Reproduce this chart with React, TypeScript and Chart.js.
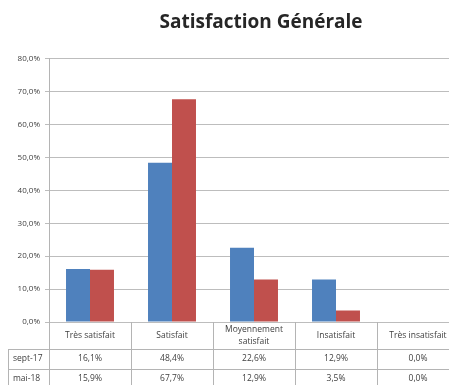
import React, { useEffect, useRef } from "react";
import { Chart, registerables } from "chart.js";

Chart.register(...registerables);

const title = "Satisfaction Générale";
const categories = ["Très satisfait", "Satisfait", "Moyennement satisfait", "Insatisfait", "Très insatisfait"];
const categoryLines = [["Très satisfait"], ["Satisfait"], ["Moyennement", "satisfait"], ["Insatisfait"], ["Très insatisfait"]];
const seriesNames = ["sept-17", "mai-18"];
const sept17 = [16.1, 48.4, 22.6, 12.9, 0.0];
const mai18 = [15.9, 67.7, 12.9, 3.5, 0.0];
const seriesColors = ["#4F81BD", "#C0504D"];
const yTicks = [0, 10, 20, 30, 40, 50, 60, 70, 80];

const fmt = (v: number) => v.toFixed(1).replace(".", ",") + "%";

const FONT = "'Open Sans', 'Liberation Sans', sans-serif";
const TEXT = "#404040";
const LINE = "#b4b4b4";

const tablePlugin = {
  id: "dataTable",
  afterDraw(chart: any) {
    const { ctx, chartArea } = chart;
    const { left, right, bottom } = chartArea;
    const n = categories.length;
    const w = (right - left) / n;
    const headerBottom = bottom + 27;
    const row1Bottom = headerBottom + 20;
    const row2Bottom = row1Bottom + 20;
    ctx.save();
    ctx.strokeStyle = LINE;
    ctx.lineWidth = 1;
    ctx.beginPath();
    for (let i = 0; i <= n; i++) {
      const x = Math.round(left + i * w) + 0.5;
      ctx.moveTo(x, bottom);
      ctx.lineTo(x, row2Bottom);
    }
    ctx.moveTo(0.5, headerBottom);
    ctx.lineTo(0.5, row2Bottom);
    [headerBottom, row1Bottom, row2Bottom].forEach((y) => {
      ctx.moveTo(0, Math.round(y) + 0.5);
      ctx.lineTo(right, Math.round(y) + 0.5);
    });
    ctx.stroke();

    ctx.fillStyle = TEXT;
    ctx.font = `8.5px ${FONT}`;
    ctx.textAlign = "center";
    ctx.textBaseline = "middle";
    categoryLines.forEach((lines, i) => {
      const cx = left + (i + 0.5) * w;
      const cy = (bottom + headerBottom) / 2;
      const lh = 12;
      lines.forEach((t, j) => {
        ctx.fillText(t, cx, cy + (j - (lines.length - 1) / 2) * lh);
      });
    });
    const rows = [sept17, mai18];
    const rowCenters = [(headerBottom + row1Bottom) / 2, (row1Bottom + row2Bottom) / 2];
    rows.forEach((vals, r) => {
      ctx.textAlign = "left";
      ctx.fillText(seriesNames[r], 5, rowCenters[r]);
      ctx.textAlign = "center";
      vals.forEach((v, i) => {
        ctx.fillText(fmt(v), left + (i + 0.5) * w, rowCenters[r]);
      });
    });
    ctx.restore();
  },
};

export default function App() {
  const ref = useRef<HTMLCanvasElement>(null);
  useEffect(() => {
    if (!ref.current) return;
    const chart = new Chart(ref.current, {
      type: "bar",
      data: {
        labels: categories,
        datasets: [
          { label: seriesNames[0], data: sept17, backgroundColor: seriesColors[0] },
          { label: seriesNames[1], data: mai18, backgroundColor: seriesColors[1] },
        ],
      },
      options: {
        responsive: false,
        animation: false,
        devicePixelRatio: 1,
        datasets: { bar: { categoryPercentage: 0.585, barPercentage: 1 } },
        layout: { padding: { top: 0, right: 0, bottom: 67, left: 0 } },
        plugins: {
          legend: { display: false },
          tooltip: { enabled: false },
          title: {
            display: true,
            text: title,
            color: "#262626",
            font: { family: FONT, size: 19, weight: "bold" },
            padding: { top: 3, bottom: 25 },
          },
        },
        scales: {
          x: { display: false },
          y: {
            min: 0,
            max: 80,
            afterBuildTicks: (scale: any) => {
              scale.ticks = yTicks.map((v) => ({ value: v }));
            },
            afterFit: (scale: any) => {
              scale.width = 41;
            },
            ticks: {
              color: TEXT,
              font: { family: FONT, size: 8 },
              padding: 5,
              callback: (v: any) => fmt(Number(v)),
            },
            grid: { color: "#bdbdbd", tickLength: 4, lineWidth: 1 },
            border: { color: LINE },
          },
          yRight: {
            position: "right",
            min: 0,
            max: 80,
            afterFit: (scale: any) => {
              scale.width = 55;
            },
            ticks: { display: false },
            grid: { drawOnChartArea: false, drawTicks: false },
            border: { display: false },
          },
        },
      },
      plugins: [tablePlugin],
    });
    return () => chart.destroy();
  }, []);
  return (
    <div style={{ width: 449, height: 377, overflow: "hidden", position: "relative" }}>
      <canvas ref={ref} width={506} height={381} style={{ width: 506, height: 381, display: "block" }} />
    </div>
  );
}
